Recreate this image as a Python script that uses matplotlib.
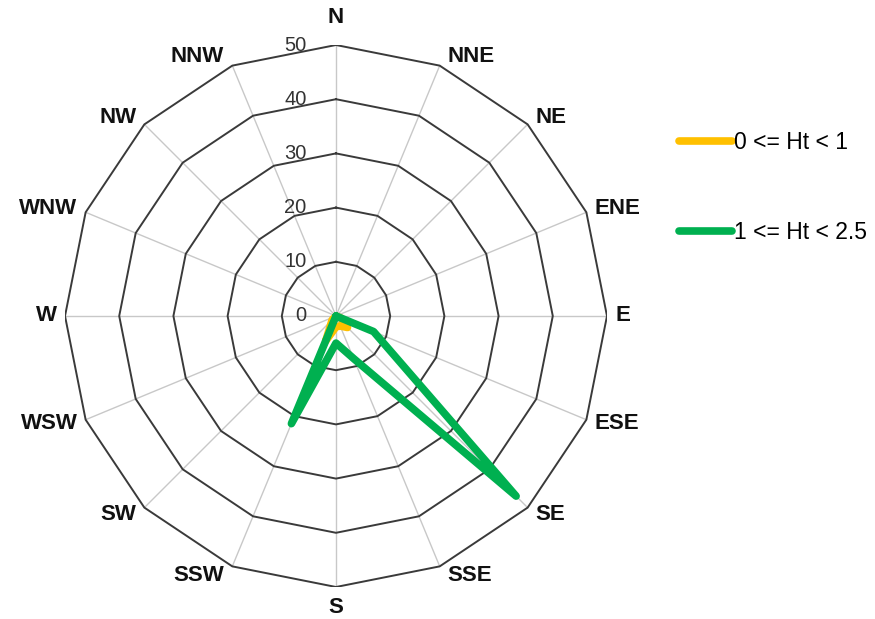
import numpy as np
import matplotlib.pyplot as plt

plt.rcParams['font.family'] = ['Liberation Sans', 'DejaVu Sans']

# wind directions, clockwise from north
directions = ['N', 'NNE', 'NE', 'ENE', 'E', 'ESE', 'SE', 'SSE',
              'S', 'SSW', 'SW', 'WSW', 'W', 'WNW', 'NW', 'NNW']
ring_ticks = [0, 10, 20, 30, 40, 50]
series_names = ['0 <= Ht < 1', '1 <= Ht < 2.5']

# percentages per direction
ht_0_1 = [0, 0, 0, 0, 0, 1, 3, 2, 2, 5, 1, 0, 0, 0, 0, 0]
ht_1_25 = [0, 0, 0, 0, 0, 7.5, 47, 8.5, 5, 21.5, 0, 0, 0, 0, 0, 0]

colors = ['#FFC000', '#00B050']

fig = plt.figure(figsize=(8.75, 6.19), dpi=100)
ax = fig.add_axes([0.0743, 0.0517, 0.6194, 0.8756])
rmax = ring_ticks[-1]
ax.set_xlim(-rmax, rmax)
ax.set_ylim(-rmax, rmax)
ax.axis('off')

ang = np.deg2rad(90 - np.arange(len(directions)) * 360 / len(directions))
closed = np.append(ang, ang[0])

# spokes
for a in ang:
    ax.plot([0, rmax * np.cos(a)], [0, rmax * np.sin(a)],
            color='#c8c8c8', lw=1, zorder=0)

# polygon rings
for r in ring_ticks[1:]:
    ax.plot(r * np.cos(closed), r * np.sin(closed),
            color='#3a3a3a', lw=1.4, zorder=1)

# ring value labels
for r in ring_ticks:
    ax.text(-5.4, r, str(r), ha='right', va='center',
            fontsize=14.5, color='#333333')

# direction labels, placed just outside the outer ring
for name, a in zip(directions, ang):
    x, y = rmax * np.cos(a), rmax * np.sin(a)
    if abs(x) < 0.5:
        y += 5 if y > 0 else -3.7
        ha = 'center'
    else:
        x += 1.5 if x > 0 else -1.5
        y += 1.9 * np.sin(a)
        ha = 'left' if x > 0 else 'right'
    ax.text(x, y, name, ha=ha, va='center', fontsize=16, fontweight='bold',
            color='#111111')

# data series
for vals, name, c in zip([ht_0_1, ht_1_25], series_names, colors):
    v = np.append(vals, vals[0])
    ax.plot(v * np.cos(closed), v * np.sin(closed), color=c, lw=5.5,
            solid_joinstyle='round', solid_capstyle='round',
            label=name, zorder=3)

fig.legend(loc='center left', bbox_to_anchor=(0.7634, 0.6976),
           frameon=False, fontsize=16.5, handlelength=2.3,
           handletextpad=0.1, labelspacing=2.93, borderpad=0)

fig.savefig('out.png', dpi=100)
